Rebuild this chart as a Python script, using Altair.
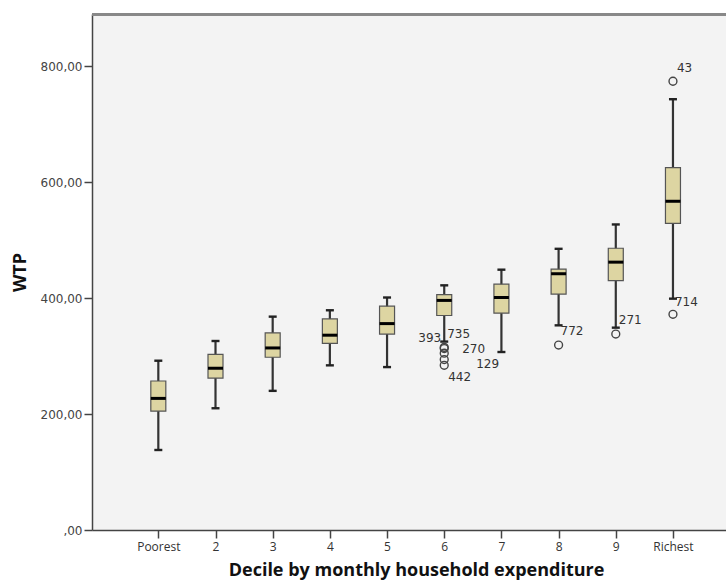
import json
import altair as alt
import pandas as pd

# Box plot summaries of willingness to pay (WTP) per expenditure decile
deciles = ["Poorest", "2", "3", "4", "5", "6", "7", "8", "9", "Richest"]
whisker_low = [138, 210, 240, 284, 281, 325, 307, 353, 349, 399]
q1 = [205, 262, 298, 322, 338, 370, 374, 407, 430, 529]
median = [227, 279, 314, 336, 356, 396, 401, 442, 462, 567]
q3 = [257, 303, 340, 364, 386, 406, 424, 450, 486, 625]
whisker_high = [292, 326, 368, 379, 401, 422, 449, 485, 527, 743]

# Outlying cases with their case numbers
outlier_decile = [6, 6, 6, 6, 6, 8, 9, 10, 10]
outlier_value = [315, 313, 305, 294, 284, 319, 338, 774, 372]
outlier_id = ["393", "735", "270", "129", "442", "772", "271", "43", "714"]

boxes = pd.DataFrame({
    "pos": list(range(1, len(deciles) + 1)),
    "decile": deciles,
    "lo": whisker_low,
    "q1": q1,
    "med": median,
    "q3": q3,
    "hi": whisker_high,
})
outliers = pd.DataFrame({
    "pos": outlier_decile,
    "wtp": outlier_value,
    "case": outlier_id,
})

W, H = 634, 516
x_scale = alt.Scale(domain=[-0.0723, 10.84], nice=False, zero=False)
y_scale = alt.Scale(domain=[0, 890], nice=False, zero=True)

label_expr = json.dumps(deciles) + "[datum.value - 1]"

x_axis = alt.Axis(
    values=list(range(1, 11)),
    labelExpr=label_expr,
    title="Decile by monthly household expenditure",
    grid=False,
    domainColor="#444444",
    domainWidth=1.5,
    tickColor="#444444",
    tickWidth=1.5,
    tickSize=8,
    labelPadding=3,
    labelFont="Open Sans",
    labelFontSize=12,
    labelColor="#333333",
    titleFont="Open Sans",
    titleFontSize=18,
    titleFontWeight="bold",
    titleColor="#111111",
    titleX=324,
    titleY=40,
    titleBaseline="middle",
    titleAnchor="middle",
    titleAlign="center",
)
y_axis = alt.Axis(
    values=[0, 200, 400, 600, 800],
    labelExpr="datum.value == 0 ? ',00' : replace(format(datum.value, '.2f'), '.', ',')",
    title="WTP",
    grid=False,
    domainColor="#444444",
    domainWidth=1.5,
    tickColor="#444444",
    tickWidth=1.5,
    tickSize=8,
    labelPadding=2,
    labelFont="DejaVu Sans",
    labelFontSize=12,
    labelColor="#444444",
    titleFont="Open Sans",
    titleFontSize=18,
    titleFontWeight="bold",
    titleColor="#111111",
    titleX=-72,
    titleY=258,
    titleAngle=270,
    titleAlign="center",
    titleBaseline="middle",
)

base = alt.Chart(boxes)
x_enc = alt.X("pos:Q", scale=x_scale, axis=x_axis)

whiskers = base.mark_rule(color="#333333", strokeWidth=2.2).encode(
    x=x_enc,
    y=alt.Y("lo:Q", scale=y_scale, axis=y_axis),
    y2="hi:Q",
)
cap_lo = base.mark_tick(orient="horizontal", size=8, thickness=2.4, color="#222222", opacity=1).encode(
    x="pos:Q", y="lo:Q"
)
cap_hi = base.mark_tick(orient="horizontal", size=8, thickness=2.4, color="#222222", opacity=1).encode(
    x="pos:Q", y="hi:Q"
)
box = base.mark_bar(size=15, fill="#ddd5a2", stroke="#555555", strokeWidth=1.2, opacity=1).encode(
    x="pos:Q", y="q1:Q", y2="q3:Q"
)
med = base.mark_tick(orient="horizontal", size=15, thickness=3, color="#000000", opacity=1).encode(
    x="pos:Q", y="med:Q"
)

points = alt.Chart(outliers).mark_point(
    shape="circle", size=62, filled=False, stroke="#444444", strokeWidth=1.4, opacity=1
).encode(x="pos:Q", y="wtp:Q")

# Offsets of each case label from its circle
label_offsets = {
    "393": ("right", -3, -9),
    "735": ("left", 3, -15),
    "270": ("left", 18, -4),
    "129": ("left", 32, 4),
    "442": ("left", 4, 12),
    "772": ("left", 2, -14),
    "271": ("left", 3, -14),
    "43": ("left", 4, -13),
    "714": ("left", 2, -12),
}
labels = []
for case, (align, dx, dy) in label_offsets.items():
    labels.append(
        alt.Chart(outliers).transform_filter(alt.datum.case == case).mark_text(
            align=align, baseline="middle", dx=dx, dy=dy,
            font="DejaVu Sans", fontSize=12, color="#333333",
        ).encode(x="pos:Q", y="wtp:Q", text="case:N")
    )

# Top border of the plot frame
top_line = alt.Chart(boxes).mark_rule(color="#888888", strokeWidth=2).encode(
    x=alt.value(0), x2=alt.value(W), y=alt.value(0.5)
)

chart = alt.layer(
    whiskers, cap_lo, cap_hi, box, med, points, *labels, top_line
).properties(
    width=W,
    height=H,
    autosize=alt.AutoSizeParams(type="none"),
    padding={"left": 92, "top": 14, "right": 0, "bottom": 51},
    background="#ffffff",
).configure_view(
    fill="#f3f3f3",
    stroke=None,
)

chart.save("out.html", embed_options={"renderer": "svg", "actions": False})
